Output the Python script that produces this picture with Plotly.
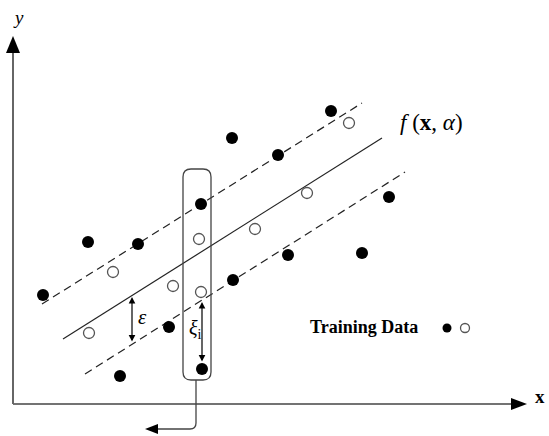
import plotly.graph_objects as go

# ---- data (origin at the axes crossing, y upward, 1 unit = 1 px) ----
filled_x = [30, 75, 125, 107, 156, 188, 189, 219, 265, 318, 376, 220, 275, 349]
filled_y = [109, 162, 160, 28, 77, 200, 35, 266, 249, 293, 207, 124, 149, 151]
open_x = [100, 76, 160, 186, 188, 242, 294, 336]
open_y = [132, 71, 118, 165, 112, 175, 211, 281]

f_x = [50, 369]
f_y = [65, 266]
upper_x = [29, 349]
upper_y = [100, 301]
lower_x = [72, 392]
lower_y = [30, 232]

eps_x = 119
eps_y = [107, 61]
xi_x = 189
xi_y = [102, 41]

box_x = [170, 198]
box_y = [24, 235]
conn_x = [183, 132]
conn_y = [24, -25]

xaxis_end = 514
yaxis_end = 368

legend_x = [434, 452]
legend_y = [76, 76]

SERIF = "Liberation Serif, Times New Roman, serif"

fig = go.Figure()

# regression line and epsilon tube
fig.add_trace(go.Scatter(x=f_x, y=f_y, mode="lines",
                         line=dict(color="#222", width=1.2), hoverinfo="skip"))
for xs, ys in [(upper_x, upper_y), (lower_x, lower_y)]:
    fig.add_trace(go.Scatter(x=xs, y=ys, mode="lines",
                             line=dict(color="#222", width=1.2, dash="8px,5px"),
                             hoverinfo="skip"))

# points
fig.add_trace(go.Scatter(x=filled_x, y=filled_y, mode="markers",
                         marker=dict(size=12, color="black", line=dict(width=0))))
fig.add_trace(go.Scatter(x=open_x, y=open_y, mode="markers",
                         marker=dict(size=11, color="white",
                                     line=dict(color="#555", width=1.3))))
# legend dots
fig.add_trace(go.Scatter(x=[legend_x[0]], y=[legend_y[0]], mode="markers",
                         marker=dict(size=9, color="black", line=dict(width=0))))
fig.add_trace(go.Scatter(x=[legend_x[1]], y=[legend_y[1]], mode="markers",
                         marker=dict(size=9, color="white",
                                     line=dict(color="#555", width=1.3))))

shapes = []
# axes
shapes.append(dict(type="line", x0=0, y0=0, x1=xaxis_end - 14, y1=0,
                   line=dict(color="#444", width=1.5)))
shapes.append(dict(type="line", x0=0, y0=0, x1=0, y1=yaxis_end - 16,
                   line=dict(color="#666", width=2)))
# arrowheads of axes
shapes.append(dict(type="path",
                   path=f"M {xaxis_end},0 L {xaxis_end-16},6 L {xaxis_end-16},-6 Z",
                   fillcolor="black", line=dict(width=0)))
shapes.append(dict(type="path",
                   path=f"M 0,{yaxis_end} L -7,{yaxis_end-17} L 7,{yaxis_end-17} Z",
                   fillcolor="black", line=dict(width=0)))

# rounded box
r = 8
x0, x1 = box_x
y0, y1 = box_y
shapes.append(dict(type="path",
                   path=(f"M {x0+r},{y0} L {x1-r},{y0} Q {x1},{y0} {x1},{y0+r} "
                         f"L {x1},{y1-r} Q {x1},{y1} {x1-r},{y1} "
                         f"L {x0+r},{y1} Q {x0},{y1} {x0},{y1-r} "
                         f"L {x0},{y0+r} Q {x0},{y0} {x0+r},{y0} Z"),
                   line=dict(color="#444", width=1.3)))
# connector with rounded corner
cx0, cx1 = conn_x
cy0, cy1 = conn_y
shapes.append(dict(type="path",
                   path=(f"M {cx0},{cy0} L {cx0},{cy1+6} Q {cx0},{cy1} {cx0-6},{cy1} "
                         f"L {cx1+10},{cy1}"),
                   line=dict(color="#444", width=1.3)))
shapes.append(dict(type="path",
                   path=f"M {cx1},{cy1} L {cx1+13},{cy1+5} L {cx1+13},{cy1-5} Z",
                   fillcolor="black", line=dict(width=0)))
fig.update_layout(shapes=shapes)

ann = []
# double arrows
for ax_x, ys in [(eps_x, eps_y), (xi_x, xi_y)]:
    ann.append(dict(x=ax_x, y=ys[0], ax=ax_x, ay=ys[1], xref="x", yref="y",
                    axref="x", ayref="y", text="", showarrow=True,
                    arrowhead=2, startarrowhead=2, arrowside="end+start",
                    arrowsize=1.1, startarrowsize=1.1, arrowwidth=1.2,
                    arrowcolor="black"))
ann.append(dict(x=eps_x + 4, y=87, text="<i>ε</i>", showarrow=False,
                xanchor="left", font=dict(family=SERIF, size=21, color="black")))
ann.append(dict(x=182, y=75, text="<i>ξ</i><sub>i</sub>", showarrow=False,
                font=dict(family=SERIF, size=20, color="black")))
ann.append(dict(x=418, y=282, text="<i>f</i> (<b>x</b>, <i>α</i>)", showarrow=False,
                font=dict(family=SERIF, size=23, color="black")))
ann.append(dict(x=351, y=77, text="<b>Training Data</b>", showarrow=False,
                font=dict(family=SERIF, size=18, color="black")))
ann.append(dict(x=5, y=387, text="<i>y</i>", showarrow=False,
                font=dict(family=SERIF, size=19, color="black")))
ann.append(dict(x=527, y=8, text="<b>x</b>", showarrow=False,
                font=dict(family=SERIF, size=19, color="black")))
fig.update_layout(annotations=ann)

fig.update_layout(
    width=549, height=436,
    margin=dict(l=0, r=0, t=0, b=0),
    paper_bgcolor="white", plot_bgcolor="white",
    showlegend=False,
    xaxis=dict(range=[-13, 536], visible=False, fixedrange=True),
    yaxis=dict(range=[-32, 404], visible=False, fixedrange=True),
)

# remove the default page margin so the figure fills the window exactly
fig.write_html(
    "out.html",
    config={"displayModeBar": False},
    post_script="document.body.style.margin='0px';"
                "document.body.style.overflow='hidden';",
)
